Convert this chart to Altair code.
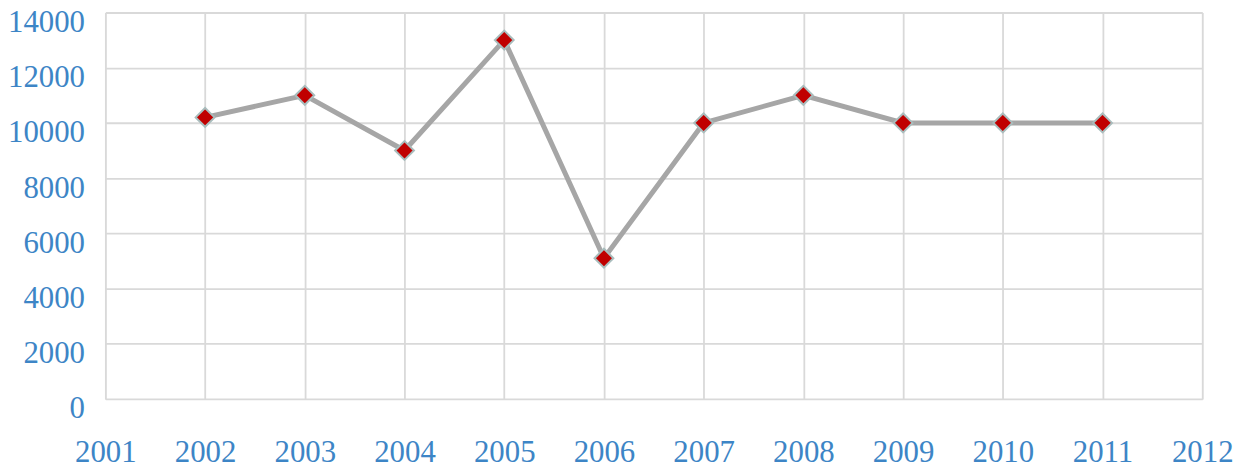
import altair as alt
import pandas as pd

years = [2002, 2003, 2004, 2005, 2006, 2007, 2008, 2009, 2010, 2011]
values = [10200, 11000, 9000, 13000, 5100, 10000, 11000, 10000, 10000, 10000]
x_ticks = list(range(2001, 2013))
y_ticks = [0, 2000, 4000, 6000, 8000, 10000, 12000, 14000]

df = pd.DataFrame({"year": years, "value": values})

label_color = "#3D85C6"
font = "Liberation Serif"

x_enc = alt.X(
    "year:Q",
    scale=alt.Scale(domain=[2001, 2012], nice=False, zero=False),
    axis=alt.Axis(
        values=x_ticks, format="d", title=None, ticks=False, domain=False,
        grid=True, gridColor="#D9D9D9", gridWidth=1.8,
        labelFont=font, labelFontSize=31, labelColor=label_color,
        labelBaseline="middle", labelPadding=54, labelAlign="center",
        labelFlush=False, labelOverlap=False, labelLimit=0,
    ),
)
y_enc = alt.Y(
    "value:Q",
    scale=alt.Scale(domain=[0, 14000], nice=False),
    axis=alt.Axis(
        values=y_ticks, format="d", title=None, ticks=False, domain=False,
        grid=True, gridColor="#D9D9D9", gridWidth=1.8,
        labelFont=font, labelFontSize=31, labelColor=label_color,
        labelBaseline="middle", labelOffset=10, labelPadding=21,
        labelFlush=False, labelOverlap=False, labelLimit=0,
    ),
)

line = alt.Chart(df).mark_line(color="#A6A6A6", strokeWidth=5).encode(x=x_enc, y=y_enc)
points = alt.Chart(df).mark_point(
    shape="diamond", filled=True, fill="#C00000", stroke="#A9BDBD",
    strokeWidth=2, size=360, opacity=1,
).encode(x="year:Q", y="value:Q")

chart = (
    alt.layer(line, points)
    .properties(
        width=1104, height=389,
        autosize=alt.AutoSizeParams(type="none"),
        padding={"left": 98, "top": 3, "right": 38, "bottom": 75},
    )
    .configure_view(strokeWidth=0)
    .configure(background="white")
)

chart.save("out.html", embed_options={"renderer": "svg", "actions": False})
